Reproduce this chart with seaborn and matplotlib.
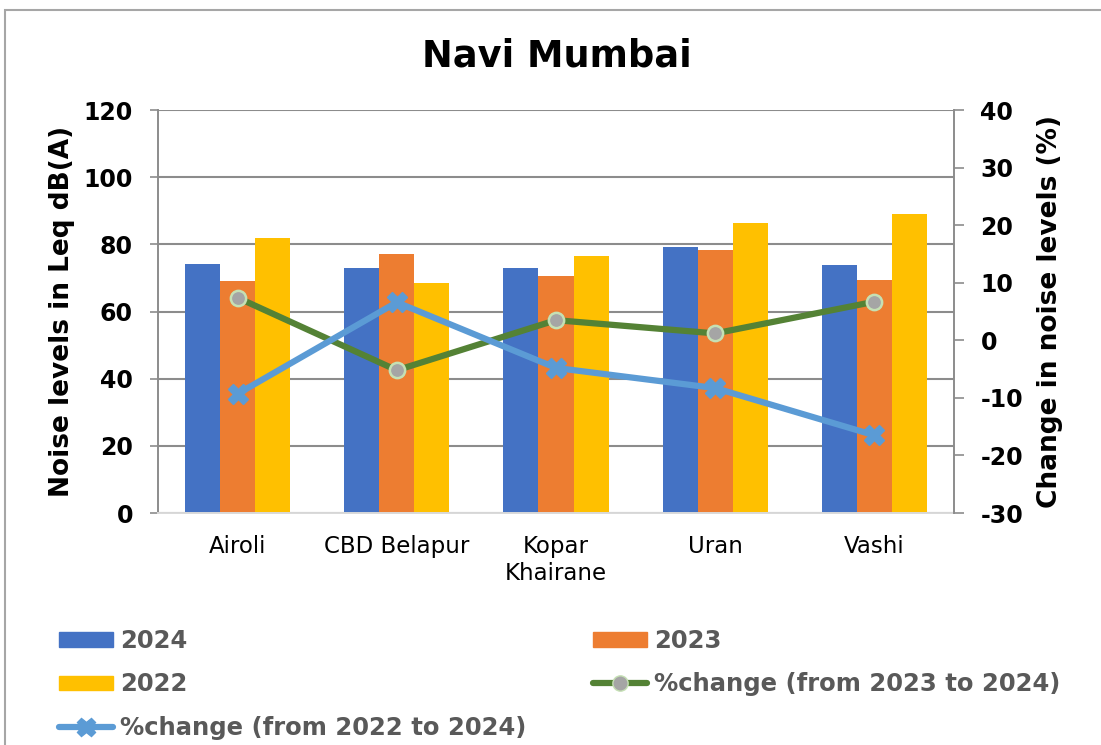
import numpy as np
import pandas as pd
import matplotlib
matplotlib.use("Agg")
import matplotlib.pyplot as plt
import seaborn as sns
from matplotlib.lines import Line2D
from matplotlib.patches import Patch, Rectangle

sites = ["Airoli", "CBD Belapur", "Kopar\nKhairane", "Uran", "Vashi"]
years = ["2024", "2023", "2022"]
noise_2024 = [74.2, 73.0, 73.0, 79.1, 73.9]
noise_2023 = [69.1, 77.1, 70.6, 78.3, 69.4]
noise_2022 = [81.8, 68.5, 76.5, 86.4, 88.9]
chg_23_24 = [7.4, -5.2, 3.5, 1.2, 6.7]
chg_22_24 = [-9.3, 6.6, -4.8, -8.3, -16.5]

bar_colors = ["#4472C4", "#ED7D31", "#FFC000"]
green, blue = "#548235", "#5B9BD5"
grid_col = "#8C8C8C"
text_col = "#595959"

sns.set_style("white")
plt.rcParams["font.family"] = ["DejaVu Sans"]
plt.rcParams["text.color"] = "black"
plt.rcParams["axes.labelcolor"] = "black"
plt.rcParams["xtick.color"] = "black"
plt.rcParams["ytick.color"] = "black"
plt.rcParams["axes.unicode_minus"] = False

df = pd.DataFrame({
    "site": sites * 3,
    "year": [y for y in years for _ in sites],
    "level": noise_2024 + noise_2023 + noise_2022,
})

fig = plt.figure(figsize=(11.01, 7.45), dpi=100)
ax = fig.add_axes([0.1435, 0.3114, 0.723, 0.5409])

sns.barplot(data=df, x="site", y="level", hue="year", hue_order=years,
            palette=bar_colors, width=0.66, gap=0, saturation=1,
            linewidth=0, ax=ax, legend=False, zorder=2)
ax.set_ylim(0, 120)
ax.set_yticks(np.arange(0, 121, 20))
ax.set_xlim(-0.5, 4.5)
ax.yaxis.grid(True, color=grid_col, linewidth=1.5, zorder=0)
ax.set_axisbelow(True)
ax.set_xlabel("")
ax.set_ylabel("Noise levels in Leq dB(A)", fontsize=19, fontweight="bold", labelpad=6)
ax.tick_params(axis="y", labelsize=17, length=6, color=grid_col, width=1.2, pad=12)
ax.tick_params(axis="x", labelsize=16.5, length=0, pad=16)
for t in ax.get_yticklabels():
    t.set_fontweight("bold")
ax.spines["left"].set_color(grid_col)
ax.spines["left"].set_linewidth(1.4)
ax.spines["bottom"].set_color("#D9D9D9")
ax.spines["bottom"].set_linewidth(1.4)
ax.spines["right"].set_visible(False)
ax.spines["top"].set_visible(False)

ax2 = ax.twinx()
x = np.arange(len(sites))
ax2.plot(x, chg_23_24, color=green, linewidth=4.5, marker="o", markersize=11,
         markerfacecolor="#A5A5A5", markeredgecolor="#C5E0B4", markeredgewidth=1.8, zorder=3)
ax2.plot(x, chg_22_24, color=blue, linewidth=4.5, marker="X", markersize=15,
         markerfacecolor=blue, markeredgecolor=blue, zorder=3)
ax2.set_ylim(-30, 40)
ax2.set_yticks(np.arange(-30, 41, 10))
ax2.set_ylabel("Change in noise levels (%)", fontsize=19, fontweight="bold", labelpad=10)
ax2.tick_params(axis="y", labelsize=17, length=7, color=grid_col, width=1.2, pad=12)
for t in ax2.get_yticklabels():
    t.set_fontweight("bold")
for s in ["left", "bottom", "top"]:
    ax2.spines[s].set_visible(False)
ax2.spines["right"].set_color(grid_col)
ax2.spines["right"].set_linewidth(1.4)

fig.text(0.506, 0.925, "Navi Mumbai", ha="center", va="center",
         fontsize=26.5, fontweight="bold")

h_2024 = Patch(color=bar_colors[0], label="2024")
h_2023 = Patch(color=bar_colors[1], label="2023")
h_2022 = Patch(color=bar_colors[2], label="2022")
h_g = Line2D([], [], color=green, linewidth=4.5, marker="o", markersize=11,
             markerfacecolor="#A5A5A5", markeredgecolor="#C5E0B4",
             label="%change (from 2023 to 2024)")
h_b = Line2D([], [], color=blue, linewidth=4.5, marker="X", markersize=13,
             label="%change (from 2022 to 2024)")
leg = fig.legend(handles=[h_2024, h_2022, h_b, h_2023, h_g], ncol=2,
                 loc="upper left", bbox_to_anchor=(0.054, 1 - 629 / 745), frameon=False,
                 prop={"size": 17.5, "weight": "bold"}, labelcolor=text_col,
                 handlelength=2.2, handleheight=0.55, handletextpad=0.3,
                 columnspacing=2.75, labelspacing=0.8, borderpad=0, borderaxespad=0)

fig.patches.append(Rectangle((0.0045, -0.1), 1.2, 1.0866, transform=fig.transFigure,
                             fill=False, edgecolor="#A6A6A6", linewidth=1.5))

fig.savefig("out.png", dpi=100)
